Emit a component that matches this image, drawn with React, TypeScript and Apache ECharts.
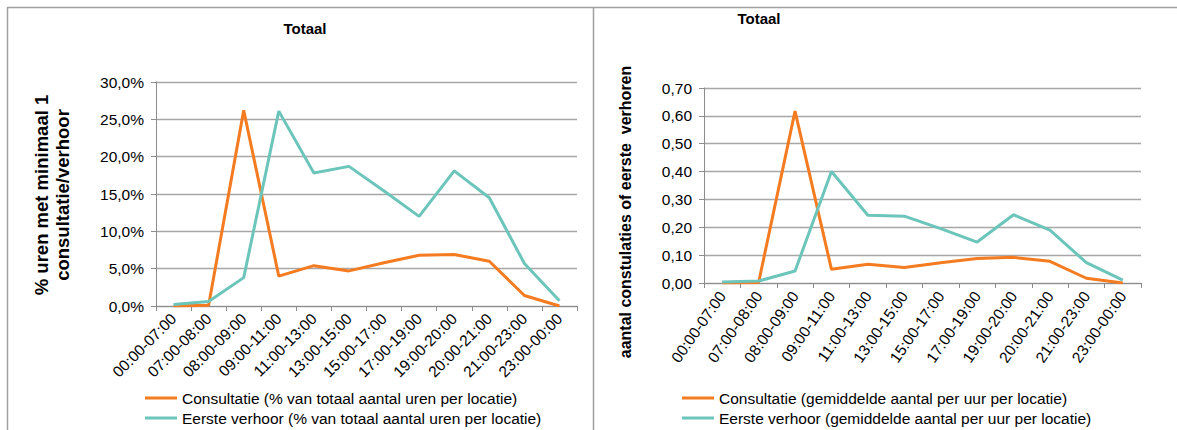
import React, { useEffect, useRef } from "react";
import * as echarts from "echarts";

const categories = [
  "00:00-07:00", "07:00-08:00", "08:00-09:00", "09:00-11:00", "11:00-13:00", "13:00-15:00",
  "15:00-17:00", "17:00-19:00", "19:00-20:00", "20:00-21:00", "21:00-23:00", "23:00-00:00",
];
const consultPct = [0.0, 0.1, 26.2, 4.0, 5.4, 4.7, 5.8, 6.8, 6.9, 6.0, 1.4, 0.0];
const verhoorPct = [0.2, 0.6, 3.8, 26.1, 17.8, 18.7, 15.4, 12.0, 18.1, 14.5, 5.7, 0.7];
const consultAvg = [0.0, 0.002, 0.617, 0.049, 0.067, 0.056, 0.073, 0.088, 0.092, 0.078, 0.017, 0.0];
const verhoorAvg = [0.004, 0.007, 0.043, 0.40, 0.243, 0.24, 0.195, 0.147, 0.245, 0.19, 0.073, 0.01];

const leftTitle = "Totaal";
const rightTitle = "Totaal";
const leftYName = "% uren met minimaal 1\nconsultatie/verhoor";
const rightYName = "aantal constulaties of eerste  verhoren";
const leftNames = [
  "Consultatie (% van totaal aantal uren per locatie)",
  "Eerste verhoor (% van totaal aantal uren per locatie)",
];
const rightNames = [
  "Consultatie (gemiddelde aantal per uur per locatie)",
  "Eerste verhoor (gemiddelde aantal per uur per locatie)",
];

const ORANGE = "#F47B20";
const TEAL = "#6CC5BA";
const FONT = "'Liberation Sans', Arial, sans-serif";
const GRID = "#A6A6A6";
const AXIS = "#8C8C8C";
const BORDER = "#A0A0A0";

export default function App() {
  const ref = useRef<HTMLDivElement>(null);
  useEffect(() => {
    if (!ref.current) return;
    const chart = echarts.init(ref.current, undefined, { renderer: "svg" });
    const xAxisBase = (gridIndex: number, rotate: number) => ({
      type: "category" as const,
      gridIndex,
      data: categories,
      boundaryGap: true,
      axisLine: { lineStyle: { color: AXIS, width: 1 } },
      axisTick: { show: true, length: 5, lineStyle: { color: AXIS } },
      axisLabel: {
        rotate,
        interval: 0,
        margin: 10,
        color: "#000",
        fontFamily: FONT,
        fontSize: 15.5,
      },
    });
    const yAxisBase = (gridIndex: number, max: number, interval: number, fmt: (v: number) => string) => ({
      type: "value" as const,
      gridIndex,
      min: 0,
      max,
      interval,
      axisLine: { show: true, lineStyle: { color: AXIS } },
      axisTick: { show: true, length: 5, lineStyle: { color: AXIS } },
      splitLine: { lineStyle: { color: GRID, width: 1.3 } },
      axisLabel: { formatter: fmt, color: "#000", fontFamily: FONT, fontSize: 15.5, margin: 12 },
    });
    const lineSeries = (name: string, data: number[], color: string, idx: number) => ({
      type: "line" as const,
      name,
      data,
      xAxisIndex: idx,
      yAxisIndex: idx,
      symbol: "none",
      lineStyle: { color, width: 3 },
      itemStyle: { color },
    });
    const legendBase = (names: string[], left: number) => ({
      type: "plain" as const,
      data: names,
      orient: "vertical" as const,
      left,
      top: 385,
      width: 500,
      height: 200,
      icon: "rect",
      itemWidth: 32,
      itemHeight: 3,
      itemGap: 4,
      textStyle: { color: "#000", fontFamily: FONT, fontSize: 15.5 },
    });
    chart.setOption({
      animation: false,
      backgroundColor: "#fff",
      title: [
        { text: leftTitle, left: 300, top: 16, textAlign: "center", textStyle: { fontFamily: FONT, fontSize: 15, fontWeight: "bold", color: "#000" } },
        { text: rightTitle, left: 754, top: 6, textAlign: "center", textStyle: { fontFamily: FONT, fontSize: 15, fontWeight: "bold", color: "#000" } },
      ],
      grid: [
        { left: 156, top: 82, width: 421, height: 224 },
        { left: 704, top: 88, width: 437, height: 195 },
      ],
      xAxis: [xAxisBase(0, 45), xAxisBase(1, 55)],
      yAxis: [
        yAxisBase(0, 30, 5, (v: number) => v.toFixed(1).replace(".", ",") + "%"),
        yAxisBase(1, 0.7, 0.1, (v: number) => v.toFixed(2).replace(".", ",")),
      ],
      legend: [legendBase(leftNames, 140), legendBase(rightNames, 677)],
      series: [
        lineSeries(leftNames[0], consultPct, ORANGE, 0),
        lineSeries(leftNames[1], verhoorPct, TEAL, 0),
        lineSeries(rightNames[0], consultAvg, ORANGE, 1),
        lineSeries(rightNames[1], verhoorAvg, TEAL, 1),
      ],
      graphic: [
        { type: "line", shape: { x1: 7, y1: 7.5, x2: 1177, y2: 7.5 }, style: { stroke: BORDER, lineWidth: 1.5 } },
        { type: "line", shape: { x1: 7.5, y1: 7, x2: 7.5, y2: 430 }, style: { stroke: BORDER, lineWidth: 1.5 } },
        { type: "line", shape: { x1: 593.5, y1: 7, x2: 593.5, y2: 430 }, style: { stroke: BORDER, lineWidth: 1.5 } },
        {
          type: "text",
          x: 52,
          y: 195,
          rotation: Math.PI / 2,
          style: {
            text: leftYName,
            fontFamily: FONT,
            fontSize: 18.5,
            fontWeight: "bold",
            lineHeight: 21,
            fill: "#000",
            align: "center",
            verticalAlign: "middle",
          },
        },
        {
          type: "text",
          x: 625,
          y: 212,
          rotation: Math.PI / 2,
          style: {
            text: rightYName,
            fontFamily: FONT,
            fontSize: 16,
            fontWeight: "bold",
            fill: "#000",
            align: "center",
            verticalAlign: "middle",
          },
        },
      ],
    });
    return () => chart.dispose();
  }, []);
  return (
    <div
      ref={ref}
      style={{ position: "fixed", left: 0, top: 0, width: 1177, height: 430, background: "#fff" }}
    />
  );
}
